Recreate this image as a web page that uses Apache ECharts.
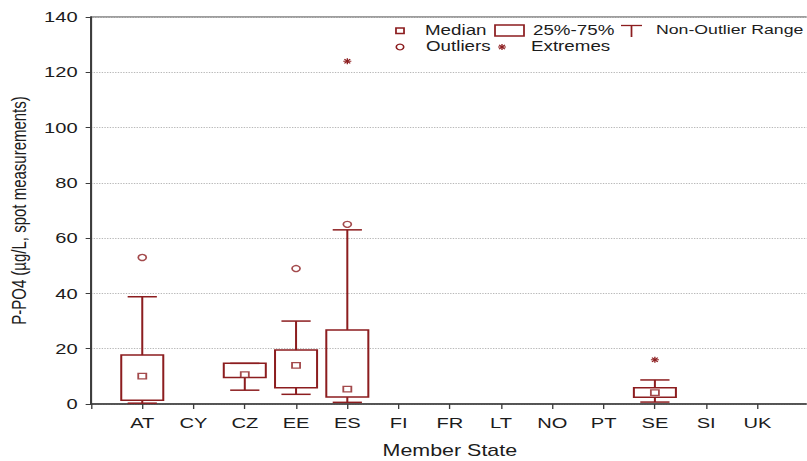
<!DOCTYPE html>
<html>
<head>
<meta charset="utf-8">
<script src="https://cdn.jsdelivr.net/npm/echarts@6/dist/echarts.min.js"></script>
<style>
  html, body { margin: 0; padding: 0; background: #fff; overflow: hidden; }
  #wrap { width: 807px; height: 461px; overflow: hidden; position: relative; }
  #chart { height: 461px; transform-origin: 0 0; position: absolute; left: 0; top: 0; }
</style>
</head>
<body>
<div id="wrap"><div id="chart"></div></div>
<script>
// P-PO4 spot measurements by member state (box-and-whisker summary)
const categories = ['AT', 'CY', 'CZ', 'EE', 'ES', 'FI', 'FR', 'LT', 'NO', 'PT', 'SE', 'SI', 'UK'];
const whiskerLow  = [0.3,  null, 5.0,  3.5,  0.6,  null, null, null, null, null, 0.7, null, null];
const quartile1   = [1.4,  null, 9.6,  5.9,  2.5,  null, null, null, null, null, 2.4, null, null];
const medians     = [10.1, null, 10.6, 14.0, 5.4,  null, null, null, null, null, 4.1, null, null];
const quartile3   = [17.7, null, 14.7, 19.5, 26.8, null, null, null, null, null, 5.9, null, null];
const whiskerHigh = [38.8, null, 14.7, 30.0, 63.0, null, null, null, null, null, 8.7, null, null];
const outliers = [['AT', 53], ['EE', 49], ['ES', 65]];
const extremes = [['ES', 124], ['SE', 16]];
const yTicks = [0, 20, 40, 60, 80, 100, 120, 140];

// The figure is laid out on a narrower canvas and widened horizontally.
const SX = 1.34;
const W = 807 / SX;
const RED = '#8c1d1f';
const FONT = "'Liberation Sans', Arial, sans-serif";
const px = v => v / SX;

const el = document.getElementById('chart');
el.style.width = W + 'px';
el.style.transform = 'scaleX(' + SX + ')';

const catIndex = c => categories.indexOf(c) + 1;

const boxData = [];
const medianData = [];
categories.forEach((c, i) => {
  if (medians[i] == null) return;
  boxData.push([i + 1, whiskerLow[i], quartile1[i], medians[i], quartile3[i], whiskerHigh[i]]);
  medianData.push([i + 1, medians[i]]);
});
const outlierData = outliers.map(o => [catIndex(o[0]), o[1]]);
const extremeData = extremes.map(e => [catIndex(e[0]), e[1]]);

const lineStyle = { stroke: RED, lineWidth: 1.5, fill: null };

function renderBox(params, api) {
  const x = api.value(0);
  const lo = api.coord([x, api.value(1)]);
  const q1 = api.coord([x, api.value(2)]);
  const q3 = api.coord([x, api.value(4)]);
  const hi = api.coord([x, api.value(5)]);
  const unit = api.size([1, 0])[0];
  const bw = unit * 0.82;
  const cw = unit * 0.57;
  return {
    type: 'group',
    children: [
      { type: 'line', shape: { x1: hi[0], y1: hi[1], x2: q3[0], y2: q3[1] }, style: lineStyle },
      { type: 'line', shape: { x1: q1[0], y1: q1[1], x2: lo[0], y2: lo[1] }, style: lineStyle },
      { type: 'line', shape: { x1: hi[0] - cw / 2, y1: hi[1], x2: hi[0] + cw / 2, y2: hi[1] }, style: lineStyle },
      { type: 'line', shape: { x1: lo[0] - cw / 2, y1: lo[1], x2: lo[0] + cw / 2, y2: lo[1] }, style: lineStyle },
      { type: 'rect', shape: { x: q1[0] - bw / 2, y: q3[1], width: bw, height: q1[1] - q3[1] },
        style: { stroke: RED, lineWidth: 1.5, fill: 'rgba(255,255,255,0)' } }
    ]
  };
}

function asteriskLines(cx, cy, r, lw) {
  const s = { stroke: RED, lineWidth: lw };
  const d = r * 0.72;
  return [
    { type: 'line', shape: { x1: cx - r, y1: cy, x2: cx + r, y2: cy }, style: s },
    { type: 'line', shape: { x1: cx, y1: cy - r, x2: cx, y2: cy + r }, style: s },
    { type: 'line', shape: { x1: cx - d, y1: cy - d, x2: cx + d, y2: cy + d }, style: s },
    { type: 'line', shape: { x1: cx - d, y1: cy + d, x2: cx + d, y2: cy - d }, style: s }
  ];
}

function renderExtreme(params, api) {
  const p = api.coord([api.value(0), api.value(1)]);
  return { type: 'group', children: asteriskLines(p[0], p[1], 3, 1) };
}

const legendText = (x, y, t, size) => ({
  type: 'text', left: px(x), top: y - 8,
  style: { text: t, font: (size || 14) + 'px ' + FONT, fill: '#1c1c1c' }
});

const chart = echarts.init(el, null, { renderer: 'svg' });
chart.setOption({
  animation: false,
  backgroundColor: '#fff',
  grid: {
    left: px(91), top: 17, bottom: 57, right: px(807 - 809),
    show: true, borderColor: '#3c3c3c', borderWidth: 1.2,
    outerBoundsMode: 'none'
  },
  xAxis: {
    type: 'value', min: 0, max: categories.length + 1, interval: 1,
    name: 'Member State', nameLocation: 'middle', nameGap: 38,
    nameTextStyle: { fontFamily: FONT, fontSize: 16, color: '#1c1c1c' },
    axisLine: { lineStyle: { color: '#3c3c3c', width: 1.5 } },
    axisTick: { show: true, length: 5, lineStyle: { color: '#3c3c3c', width: 1 } },
    axisLabel: {
      margin: 11, fontFamily: FONT, fontSize: 15, color: '#1c1c1c',
      formatter: v => categories[v - 1] || ''
    },
    splitLine: { show: false }
  },
  yAxis: {
    type: 'value', min: yTicks[0], max: yTicks[yTicks.length - 1], interval: 20,
    name: 'P-PO4 (µg/L, spot measurements)', nameLocation: 'middle', nameGap: 44,
    nameTextStyle: { fontFamily: FONT, fontSize: 15, color: '#1c1c1c' },
    axisLine: { show: true, lineStyle: { color: '#3c3c3c', width: 1.5 } },
    axisTick: { show: true, length: 4, lineStyle: { color: '#3c3c3c', width: 1 } },
    axisLabel: { margin: 10, fontFamily: FONT, fontSize: 15, color: '#1c1c1c' },
    splitLine: { show: true, lineStyle: { color: '#b8b8b8', type: 'dotted', width: 1 } }
  },
  series: [
    { type: 'custom', name: 'box', data: boxData, renderItem: renderBox, z: 2,
      encode: { x: 0, y: [1, 2, 3, 4, 5] } },
    { type: 'scatter', name: 'Median', data: medianData, symbol: 'rect', symbolSize: [6, 5.5], z: 3,
      itemStyle: { color: '#fff', borderColor: RED, borderWidth: 1.3 } },
    { type: 'scatter', name: 'Outliers', data: outlierData, symbol: 'circle', symbolSize: 6, z: 3,
      itemStyle: { color: '#fff', borderColor: RED, borderWidth: 1.3 } },
    { type: 'custom', name: 'Extremes', data: extremeData, renderItem: renderExtreme, z: 3,
      encode: { x: 0, y: 1 } }
  ],
  graphic: [
    { type: 'rect', shape: { x: px(400) - 3, y: 28, width: 6, height: 5.5 },
      style: { fill: '#fff', stroke: RED, lineWidth: 1.3 } },
    legendText(425, 31, 'Median'),
    { type: 'rect', shape: { x: px(495), y: 25, width: px(524) - px(495), height: 11 },
      style: { fill: '#fff', stroke: RED, lineWidth: 1.3 } },
    legendText(533, 31, '25%-75%'),
    { type: 'line', shape: { x1: px(621), y1: 25.5, x2: px(642), y2: 25.5 }, style: { stroke: RED, lineWidth: 1.3 } },
    { type: 'line', shape: { x1: px(631.5), y1: 25.5, x2: px(631.5), y2: 37 }, style: { stroke: RED, lineWidth: 1.3 } },
    legendText(656, 31, 'Non-Outlier Range', 13.2),
    { type: 'circle', shape: { cx: px(400), cy: 47, r: 2.8 },
      style: { fill: '#fff', stroke: RED, lineWidth: 1.2 } },
    legendText(426, 47, 'Outliers'),
    { type: 'group', children: asteriskLines(px(502), 47, 3, 1) },
    legendText(531, 47, 'Extremes')
  ]
});
</script>
</body>
</html>
